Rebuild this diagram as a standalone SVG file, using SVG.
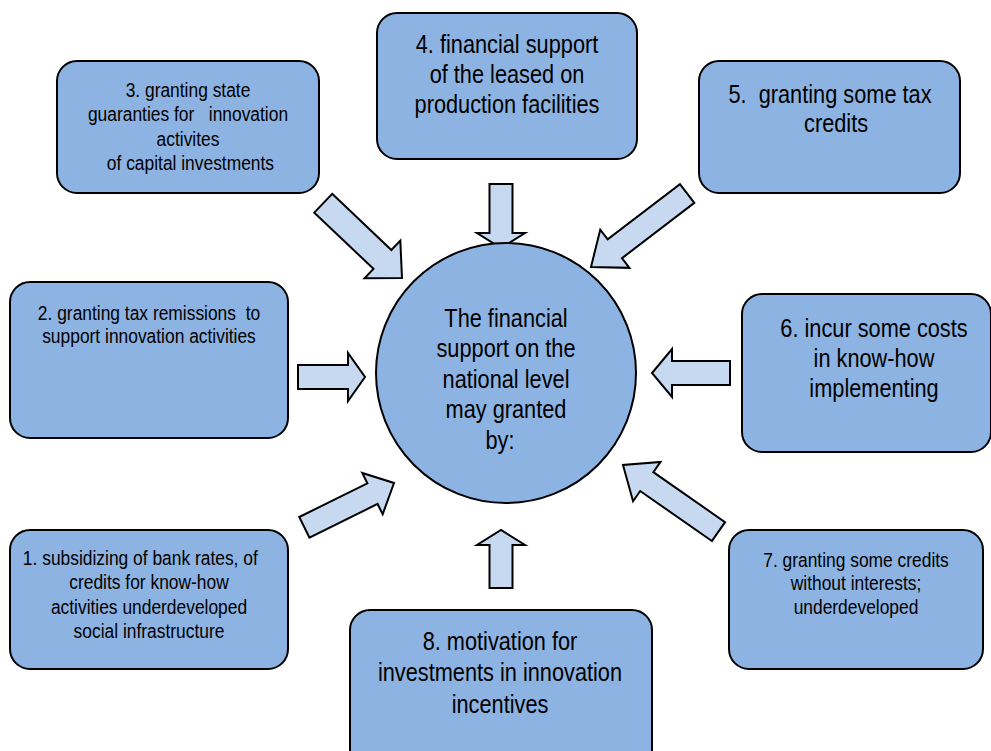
<svg xmlns="http://www.w3.org/2000/svg" width="991" height="751" viewBox="0 0 991 751">
<style>
.box{fill:#8DB3E2;stroke:#000;stroke-width:2}
.arr{fill:#C6D9F1;stroke:#000;stroke-width:2;stroke-linejoin:miter}
text{font-family:"Liberation Sans",Arial,sans-serif;fill:#000;text-anchor:middle;white-space:pre}
.s{font-size:20px}
.b{font-size:25px}
</style>
<rect width="991" height="751" fill="#fff"/>
<g id="connectors">
<polygon class="arr" transform="translate(365,377)" points="-67,-12 -17,-12 -17,-24 0,0 -17,24 -17,12 -67,12"/>
<polygon class="arr" transform="translate(652,373) rotate(180)" points="-78,-12 -20,-12 -20,-24 0,0 -20,24 -20,12 -78,12"/>
<polygon class="arr" transform="translate(501,248) rotate(90)" points="-64,-11.5 -15,-11.5 -15,-24 0,0 -15,24 -15,11.5 -64,11.5"/>
<polygon class="arr" transform="translate(501,530) rotate(-90)" points="-58,-11.5 -15,-11.5 -15,-24 0,0 -15,24 -15,11.5 -58,11.5"/>
<polygon class="arr" transform="translate(402,278) rotate(43.5)" points="-108.6,-13 -27,-13 -27,-26 0,0 -27,26 -27,13 -108.6,13"/>
<polygon class="arr" transform="translate(591,267) rotate(142.6)" points="-121,-11.8 -30,-11.8 -30,-24 0,0 -30,24 -30,11.8 -121,11.8"/>
<polygon class="arr" transform="translate(394,483) rotate(-26.3)" points="-100,-11.5 -24,-11.5 -24,-23 0,0 -24,23 -24,11.5 -100,11.5"/>
<polygon class="arr" transform="translate(623,465) rotate(-145.1)" points="-116.4,-11.5 -29,-11.5 -29,-24 0,0 -29,24 -29,11.5 -116.4,11.5"/>
</g>
<g id="center">
<circle class="box" cx="506" cy="373" r="130"/>
<g transform="translate(506 0) scale(0.87 1)">
<text class="b" x="0" y="327">The financial</text>
<text class="b" x="0" y="357.5">support on the</text>
<text class="b" x="0" y="388">national level</text>
<text class="b" x="0" y="418.5">may granted</text>
<text class="b" x="-7" y="449">by:</text>
</g>
</g>
<g id="node1">
<rect class="box" x="10" y="530" width="278" height="139" rx="20"/>
<g transform="translate(149 0) scale(0.87 1)">
<text class="s" x="-10" y="565">1. subsidizing of bank rates, of</text>
<text class="s" x="0" y="589.5">credits for know-how</text>
<text class="s" x="0" y="614">activities underdeveloped</text>
<text class="s" x="0" y="638.5">social infrastructure</text>
</g>
</g>
<g id="node2">
<rect class="box" x="10" y="282" width="278" height="156" rx="20"/>
<g transform="translate(149 0) scale(0.87 1)">
<text class="s" x="0" y="320">2. granting tax remissions  to</text>
<text class="s" x="0" y="343">support innovation activities</text>
</g>
</g>
<g id="node3">
<rect class="box" x="57" y="61" width="262" height="132" rx="20"/>
<g transform="translate(188 0) scale(0.87 1)">
<text class="s" x="0" y="97">3. granting state</text>
<text class="s" x="0" y="121.5">guaranties for   innovation</text>
<text class="s" x="0" y="146">activites</text>
<text class="s" x="0" y="170"> of capital investments</text>
</g>
</g>
<g id="node4">
<rect class="box" x="377" y="13" width="260" height="146" rx="20"/>
<g transform="translate(507 0) scale(0.87 1)">
<text class="b" x="0" y="53">4. financial support</text>
<text class="b" x="0" y="83">of the leased on</text>
<text class="b" x="0" y="113">production facilities</text>
</g>
</g>
<g id="node5">
<rect class="box" x="699" y="61" width="261" height="132" rx="20"/>
<g transform="translate(830 0) scale(0.87 1)">
<text class="b" x="0" y="103">5.  granting some tax</text>
<text class="b" x="7" y="132">credits</text>
</g>
</g>
<g id="node6">
<rect class="box" x="742" y="294" width="249" height="158" rx="20"/>
<g transform="translate(874 0) scale(0.87 1)">
<text class="b" x="0" y="337">6. incur some costs</text>
<text class="b" x="0" y="367">in know-how</text>
<text class="b" x="0" y="397">implementing</text>
</g>
</g>
<g id="node7">
<rect class="box" x="729" y="530" width="254" height="139" rx="20"/>
<g transform="translate(856 0) scale(0.87 1)">
<text class="s" x="0" y="567">7. granting some credits</text>
<text class="s" x="0" y="590.5">without interests;</text>
<text class="s" x="0" y="614">underdeveloped</text>
</g>
</g>
<g id="node8">
<rect class="box" x="350" y="610" width="302" height="160" rx="20"/>
<g transform="translate(500 0) scale(0.87 1)">
<text class="b" x="0" y="650">8. motivation for</text>
<text class="b" x="0" y="681.5">investments in innovation</text>
<text class="b" x="0" y="713">incentives</text>
</g>
</g>
</svg>
